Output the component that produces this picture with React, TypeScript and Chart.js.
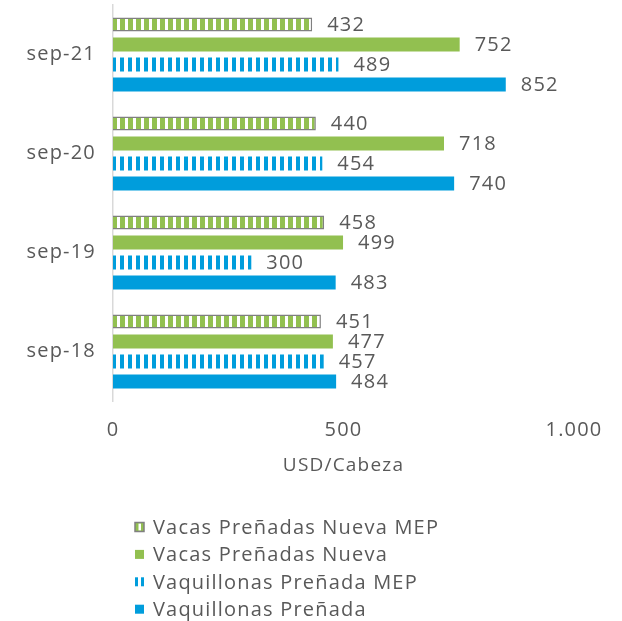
import React, { useEffect, useRef } from "react";
import { Chart, registerables } from "chart.js";

Chart.register(...registerables);

const categories = ["sep-21", "sep-20", "sep-19", "sep-18"];
const vacasMEP = [432, 440, 458, 451];
const vacas = [752, 718, 499, 477];
const vaqMEP = [489, 454, 300, 457];
const vaq = [852, 740, 483, 484];
const seriesNames = [
  "Vacas Preñadas Nueva MEP",
  "Vacas Preñadas Nueva",
  "Vaquillonas Preñada MEP",
  "Vaquillonas Preñada",
];
const xTicks = [0, 500, 1000];
const xTitle = "USD/Cabeza";

const GREEN = "#92C050";
const BLUE = "#009DDC";
const TEXT = "#595959";
const FONT = "'Open Sans', sans-serif";
const SPACING = "1.2px";

function makeStripe(color: string, colorW: number, whiteW: number) {
  const c = document.createElement("canvas");
  c.width = colorW + whiteW;
  c.height = 4;
  const x = c.getContext("2d")!;
  x.fillStyle = "#ffffff";
  x.fillRect(0, 0, c.width, c.height);
  x.fillStyle = color;
  x.fillRect(0, 0, colorW, c.height);
  return x.createPattern(c, "repeat") as CanvasPattern;
}

const fmt = (v: number) => v.toLocaleString("de-DE");

export default function App() {
  const ref = useRef<HTMLCanvasElement>(null);
  useEffect(() => {
    document.body.style.margin = "0";
    const ctx = ref.current!.getContext("2d")!;
    const greenPat = makeStripe(GREEN, 5, 3);
    const bluePat = makeStripe(BLUE, 4, 4);

    const spacingPlugin = {
      id: "spacing",
      beforeInit(chart: any) {
        chart.ctx.letterSpacing = SPACING;
      },
      beforeUpdate(chart: any) {
        chart.ctx.letterSpacing = SPACING;
      },
      beforeDraw(chart: any) {
        chart.ctx.letterSpacing = SPACING;
      },
    };

    const labelPlugin = {
      id: "valueLabels",
      afterDatasetsDraw(chart: any) {
        const c = chart.ctx;
        c.save();
        c.letterSpacing = SPACING;
        c.font = `20px ${FONT}`;
        c.fillStyle = TEXT;
        c.textBaseline = "middle";
        c.textAlign = "left";
        chart.data.datasets.forEach((ds: any, i: number) => {
          const meta = chart.getDatasetMeta(i);
          meta.data.forEach((bar: any, j: number) => {
            c.fillText(fmt(ds.data[j]), bar.x + 15, bar.y + 1);
          });
        });
        c.restore();
      },
    };

    const legendPlugin = {
      id: "customLegend",
      afterDraw(chart: any) {
        const c = chart.ctx;
        c.save();
        c.letterSpacing = SPACING;
        c.font = `20px ${FONT}`;
        c.textBaseline = "middle";
        const x0 = 135;
        const y0 = 527;
        const step = 27.4;
        seriesNames.forEach((name, i) => {
          const y = y0 + i * step;
          const bx = x0, by = y - 4.5, bw = 9, bh = 9;
          if (i === 0) {
            c.fillStyle = GREEN;
            c.fillRect(bx, by, bw, bh);
            c.fillStyle = "#fff";
            c.fillRect(bx + 3.5, by + 1, 2.5, bh - 2);
            c.strokeStyle = "#808080";
            c.lineWidth = 1.5;
            c.strokeRect(bx, by, bw, bh);
          } else if (i === 1) {
            c.fillStyle = GREEN;
            c.fillRect(bx, by, bw, bh);
          } else if (i === 2) {
            c.fillStyle = BLUE;
            c.fillRect(bx, by, 3, bh);
            c.fillRect(bx + 6, by, 3, bh);
          } else {
            c.fillStyle = BLUE;
            c.fillRect(bx, by, bw, bh);
          }
          c.fillStyle = TEXT;
          c.fillText(name, 153, y + 1);
        });
        c.restore();
      },
    };

    const common = { barPercentage: 0.7, categoryPercentage: 0.81 };
    const chart = new Chart(ctx, {
      type: "bar",
      data: {
        labels: categories,
        datasets: [
          { label: seriesNames[0], data: vacasMEP, backgroundColor: greenPat, borderColor: "#808080", borderWidth: 1.5, ...common },
          { label: seriesNames[1], data: vacas, backgroundColor: GREEN, ...common },
          { label: seriesNames[2], data: vaqMEP, backgroundColor: bluePat, ...common },
          { label: seriesNames[3], data: vaq, backgroundColor: BLUE, ...common },
        ],
      },
      options: {
        indexAxis: "y",
        animation: false,
        responsive: false,
        layout: { padding: { top: 5, left: 8, right: 48, bottom: 140 } },
        plugins: { legend: { display: false }, tooltip: { enabled: false } },
        scales: {
          x: {
            min: 0,
            max: 1000,
            afterBuildTicks: (s: any) => {
              s.ticks = xTicks.map((v) => ({ value: v }));
            },
            afterFit: (s: any) => {
              s.height = 80;
              s.paddingLeft = 0;
              s.paddingRight = 0;
            },
            grid: { display: false, drawTicks: false },
            border: { display: false },
            ticks: {
              color: TEXT,
              font: { size: 20, family: FONT },
              padding: 17,
              callback: (v: any) => fmt(Number(v)),
            },
            title: {
              display: true,
              text: xTitle,
              color: TEXT,
              font: { size: 19, family: FONT },
              padding: { top: 0 },
            },
          },
          y: {
            afterFit: (s: any) => {
              s.width = 105;
              s.paddingTop = 0;
              s.paddingBottom = 0;
            },
            grid: { display: false, drawTicks: false },
            border: { display: true, color: "#D9D9D9", width: 1.5 },
            ticks: {
              color: TEXT,
              font: { size: 20, family: FONT },
              padding: 17,
            },
          },
        },
      },
      plugins: [spacingPlugin, labelPlugin, legendPlugin],
    } as any);
    return () => chart.destroy();
  }, []);
  return <canvas ref={ref} width={622} height={621} style={{ display: "block" }} />;
}
